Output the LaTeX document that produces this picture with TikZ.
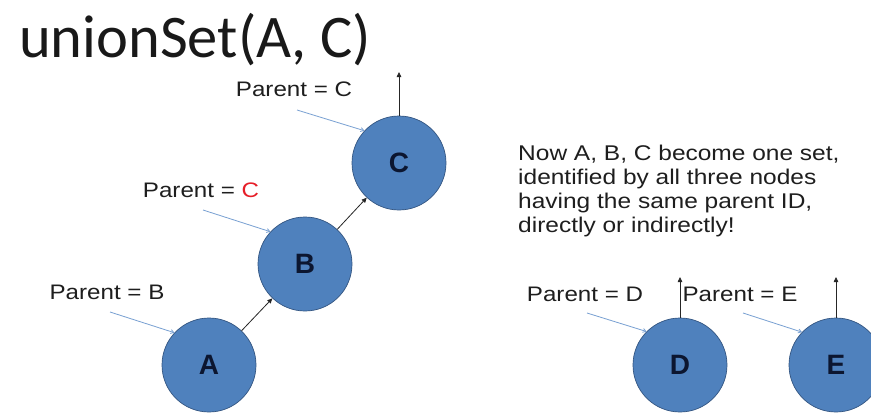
\documentclass[tikz,border=0pt]{standalone}
\usepackage{fontspec}
\setmainfont{Liberation Sans}
\newfontfamily\titlefont{Carlito}
\newfontfamily\labfont[FakeStretch=1.15]{Liberation Sans}
\usetikzlibrary{arrows.meta}
\definecolor{nodeblue}{RGB}{79,129,189}
\definecolor{nodeedge}{RGB}{52,86,130}
\definecolor{letterc}{RGB}{12,22,48}
\definecolor{pointer}{RGB}{120,160,210}
\definecolor{txt}{RGB}{30,30,30}
\definecolor{redc}{RGB}{230,30,40}
\tikzset{
  setnode/.style={circle, minimum size=94pt, inner sep=0pt, fill=nodeblue, draw=nodeedge, line width=0.7pt,
    font=\fontsize{28}{30}\selectfont\bfseries, text=letterc},
  parentlab/.style={font=\labfont\fontsize{21}{24}\selectfont, text=txt, inner sep=0pt, anchor=center},
  linkarrow/.style={draw=black!85, line width=0.8pt, -{Triangle[length=5pt,width=4.5pt]}},
  ptrarrow/.style={draw=pointer, line width=0.8pt, -{Straight Barb[length=3pt,width=4pt]}},
}
\begin{document}
\begin{tikzpicture}[x=1pt,y=-1pt]
\useasboundingbox (0,0) rectangle (871,413);
\clip (0,0) rectangle (871,413);
\fill[white] (0,0) rectangle (871,413);

% title
\node[font=\titlefont\fontsize{60.5}{70}\selectfont, text=black!90, anchor=base west, inner sep=0pt] (title) at (19,57) {unionSet(A, C)};

% set nodes
\node[setnode] (A) at (209,365) {A};
\node[setnode] (B) at (305,264) {B};
\node[setnode] (C) at (399,163) {C};
\node[setnode] (D) at (680,365) {D};
\node[setnode] (E) at (836,365) {E};

% parent links
\draw[linkarrow] (A) -- (B);
\draw[linkarrow] (B) -- (C);
\coordinate (Ctop) at (399,72);
\coordinate (Dtop) at (680,277);
\coordinate (Etop) at (836,277);
\draw[linkarrow] (C.north) -- (Ctop);
\draw[linkarrow] (D.north) -- (Dtop);
\draw[linkarrow] (E.north) -- (Etop);

% labels
\node[parentlab] (lC) at (294,89) {Parent = C};
\node[parentlab] (lB) at (201,190) {Parent = \textcolor{redc}{C}};
\node[parentlab] (lA) at (107,292) {Parent = B};
\node[parentlab] (lD) at (585,294) {Parent = D};
\node[parentlab] (lE) at (740,294) {Parent = E};

% label pointers
\coordinate (pC) at (297,110);
\coordinate (pB) at (203,210);
\coordinate (pA) at (110,312);
\coordinate (pD) at (587,313);
\coordinate (pE) at (743,313);
\draw[ptrarrow] (pC) -- (C.137);
\draw[ptrarrow] (pB) -- (B.137);
\draw[ptrarrow] (pA) -- (A.137);
\draw[ptrarrow] (pD) -- (D.135);
\draw[ptrarrow] (pE) -- (E.136);

% explanation
\node[font=\labfont\fontsize{21.3}{23.7}\selectfont, text=txt, anchor=base west, align=left, inner sep=0pt] (note) at (518,232)
  {Now A, B, C become one set,\\identified by all three nodes\\having the same parent ID,\\directly or indirectly!};
\end{tikzpicture}
\end{document}
